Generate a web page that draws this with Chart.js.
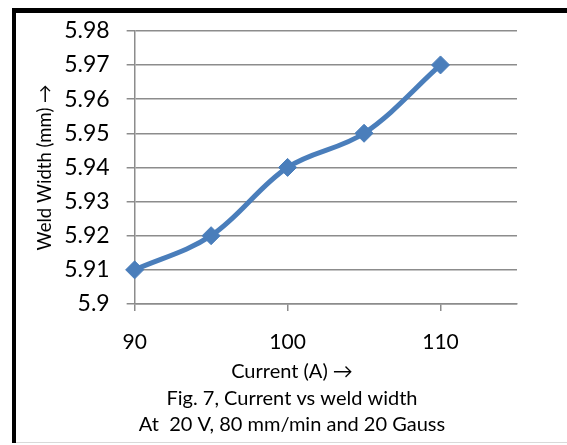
<!DOCTYPE html>
<html>
<head>
<meta charset="utf-8">
<script src="https://cdn.jsdelivr.net/npm/chart.js@4"></script>
<style>
  html, body { margin: 0; padding: 0; background: #fff; overflow: hidden; width: 567px; height: 445px; }
  #box { position: absolute; left: 0; top: 0; width: 567px; height: 445px; }
</style>
</head>
<body>
<div id="box"><canvas id="weldChart"></canvas></div>
<script>
const currents = [90, 95, 100, 105, 110];
const weldWidths = [5.91, 5.92, 5.94, 5.95, 5.97];
const xTickValues = [90, 100, 110];
const yTitle = "Weld Width (mm) \u2192";
const captionLines = [
  "Current (A) \u2192",
  "Fig. 7, Current vs weld width",
  "At  20 V, 80 mm/min and 20 Gauss"
];

const ctx = document.getElementById("weldChart").getContext("2d");
const gridGray = "#8c8c8c";

// cadre noir en haut et à gauche, comme la capture
const framePlugin = {
  id: "frame",
  beforeDraw: (chart) => {
    const c = chart.ctx;
    c.save();
    c.fillStyle = "#fff";
    c.fillRect(0, 0, chart.width, chart.height);
    c.fillStyle = "#000";
    c.fillRect(12, 8, chart.width - 12, 5);
    c.fillRect(12, 8, 4, chart.height - 10);
    c.fillStyle = "#d9d9d9";
    c.fillRect(16, chart.height - 3, chart.width - 16, 1);
    c.restore();
  }
};

let weldChart = new Chart(ctx, {
  type: "scatter",
  data: {
    datasets: [{
      data: currents.map((c, i) => ({ x: c, y: weldWidths[i] })),
      showLine: true,
      tension: 0.35,
      borderColor: "#4a7ebb",
      backgroundColor: "#4a7ebb",
      borderWidth: 5,
      pointStyle: "rectRot",
      pointRadius: 9,
      pointBorderWidth: 1,
      clip: false
    }]
  },
  options: {
    responsive: true,
    maintainAspectRatio: false,
    animation: false,
    layout: { padding: { top: 5, right: 17, left: 34, bottom: 7 } },
    plugins: {
      legend: { display: false },
      tooltip: { enabled: false },
      title: {
        display: true,
        position: "bottom",
        text: captionLines,
        color: "#000",
        font: { family: "Lato", size: 20, weight: "normal", lineHeight: 1.33 },
        padding: { top: -16, bottom: 0 }
      }
    },
    scales: {
      x: {
        type: "linear",
        min: 90,
        max: 115,
        afterBuildTicks: (scale) => {
          scale.ticks = xTickValues.map(v => ({ value: v }));
        },
        grid: { drawOnChartArea: false, drawTicks: true, tickLength: 7, color: gridGray, lineWidth: 1.5 },
        border: { color: gridGray, width: 1.5 },
        ticks: { color: "#000", padding: 19, font: { family: "Lato", size: 21 } }
      },
      y: {
        min: 5.9,
        max: 5.98,
        grid: { color: gridGray, lineWidth: 1.5, tickLength: 8 },
        border: { color: gridGray, width: 1.5 },
        ticks: {
          stepSize: 0.01,
          autoSkip: false,
          color: "#000",
          padding: 17,
          font: { family: "Lato", size: 23 },
          callback: (v) => String(+v.toFixed(2))
        },
        title: {
          display: true,
          text: yTitle,
          color: "#000",
          font: { family: "Lato", size: 18.5 },
          padding: { top: 0, bottom: -9 }
        }
      },
      yRight: {
        position: "right",
        grid: { display: false },
        border: { display: false },
        ticks: { display: false },
        afterFit: (scale) => { scale.width = 33; }
      }
    }
  },
  plugins: [framePlugin]
});
</script>
</body>
</html>
